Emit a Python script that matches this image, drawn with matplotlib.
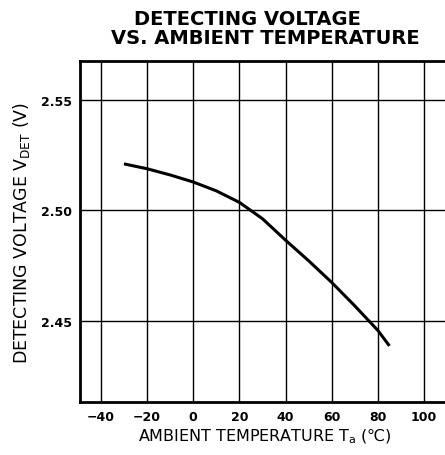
import matplotlib
matplotlib.use("Agg")
import matplotlib.pyplot as plt

temp_c = [-30, -20, -10, 0, 10, 20, 30, 40, 50, 60, 70, 80, 85]
v_det = [2.5210, 2.5188, 2.5160, 2.5128, 2.5088, 2.5036, 2.4962, 2.4865, 2.4772, 2.4674, 2.4568, 2.4457, 2.4387]

x_ticks = [-40, -20, 0, 20, 40, 60, 80, 100]
y_ticks = [2.45, 2.50, 2.55]
y_tick_labels = ["2.45", "2.50", "2.55"]

plt.rcParams['font.family'] = ['DejaVu Sans']

fig = plt.figure(figsize=(4.45, 4.56), dpi=100)
ax = fig.add_axes([0.18, 0.116, 0.83, 0.748])

ax.plot(temp_c, v_det, color='black', linewidth=2.2, solid_capstyle='butt')

ax.set_xlim(-49, 111)
ax.set_ylim(2.4133, 2.5675)
ax.set_xticks(x_ticks)
ax.set_xticklabels([str(t).replace('-', '\u2212') for t in x_ticks])
ax.set_yticks(y_ticks)
ax.set_yticklabels(y_tick_labels)
ax.grid(True, color='black', linewidth=1.0)
ax.tick_params(length=0, labelsize=9, pad=6)
for lbl in ax.get_xticklabels() + ax.get_yticklabels():
    lbl.set_fontweight('bold')

for side in ['left', 'bottom', 'top']:
    ax.spines[side].set_linewidth(2)
ax.spines['right'].set_visible(False)

ax.set_xlabel('AMBIENT TEMPERATURE T$_\\mathregular{a}$ (\u2103)', fontsize=11.5, labelpad=2)
ax.set_ylabel('DETECTING VOLTAGE V$_\\mathregular{DET}$ (V)', fontsize=12.5, labelpad=6)

fig.text(0.556, 0.958, 'DETECTING VOLTAGE', ha='center', va='center', fontsize=14, fontweight='bold')
fig.text(0.597, 0.915, 'VS. AMBIENT TEMPERATURE', ha='center', va='center', fontsize=14, fontweight='bold')

fig.savefig('out.png', dpi=100)
